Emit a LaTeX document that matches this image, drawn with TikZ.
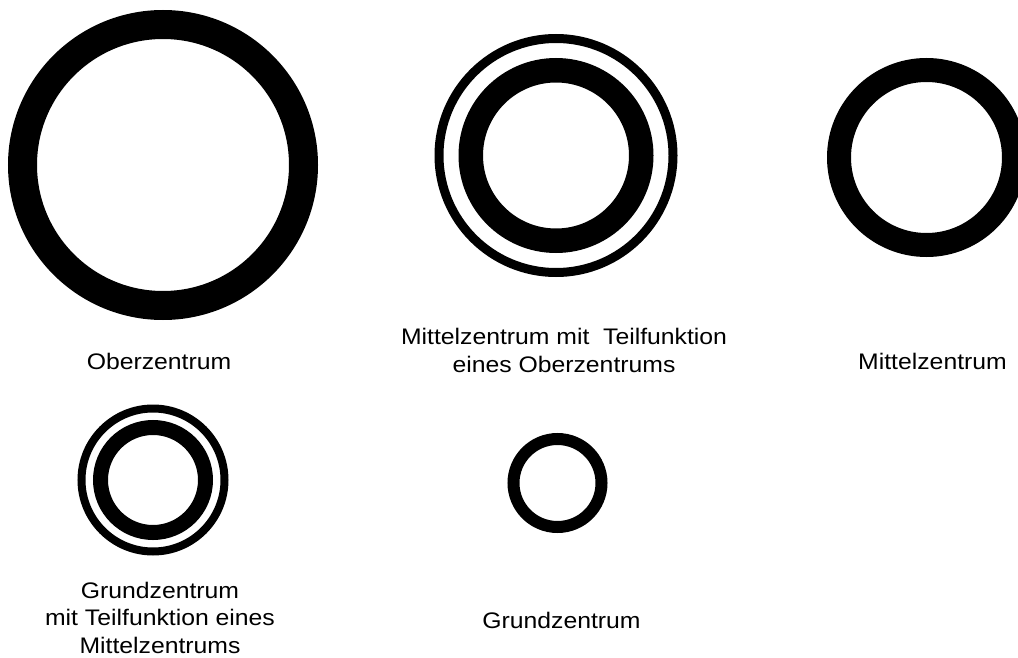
\documentclass[tikz,border=0pt]{standalone}
\usepackage{fontspec}
\setmainfont[FakeStretch=1.1]{Liberation Sans}
\begin{document}
\begin{tikzpicture}[x=1pt,y=-1pt,
  ringline/.style={draw=black},
  lbl/.style={anchor=base,inner sep=0pt,align=center,font=\fontsize{22.5}{27.5}\selectfont}]
\useasboundingbox (0,0) rectangle (1018,658);
\fill[white] (0,0) rectangle (1018,658);
% Oberzentrum
\draw[ringline,line width=29] (163,165) circle[radius=140.5];
% Mittelzentrum mit Teilfunktion eines Oberzentrums
\draw[ringline,line width=9] (556,155.5) circle[radius=117];
\draw[ringline,line width=24.5] (556,155.5) circle[radius=85.25];
% Mittelzentrum
\draw[ringline,line width=24] (926.5,157.5) circle[radius=87.5];
% Grundzentrum mit Teilfunktion eines Mittelzentrums
\draw[ringline,line width=8] (153,480) circle[radius=71.5];
\draw[ringline,line width=15] (153,480) circle[radius=52.5];
% Grundzentrum
\draw[ringline,line width=12] (557.5,483) circle[radius=44];
% labels (base anchor = baseline of last line)
\node[lbl] (l1) at (159,369) {Oberzentrum};
\node[lbl] (l2) at (564,372) {Mittelzentrum mit\ \ Teilfunktion\\eines Oberzentrums};
\node[lbl] (l3) at (932.5,369) {Mittelzentrum};
\node[lbl] (l4) at (160,653) {Grundzentrum\\mit Teilfunktion eines\\Mittelzentrums};
\node[lbl] (l5) at (561.5,628) {Grundzentrum};
\end{tikzpicture}
\end{document}
